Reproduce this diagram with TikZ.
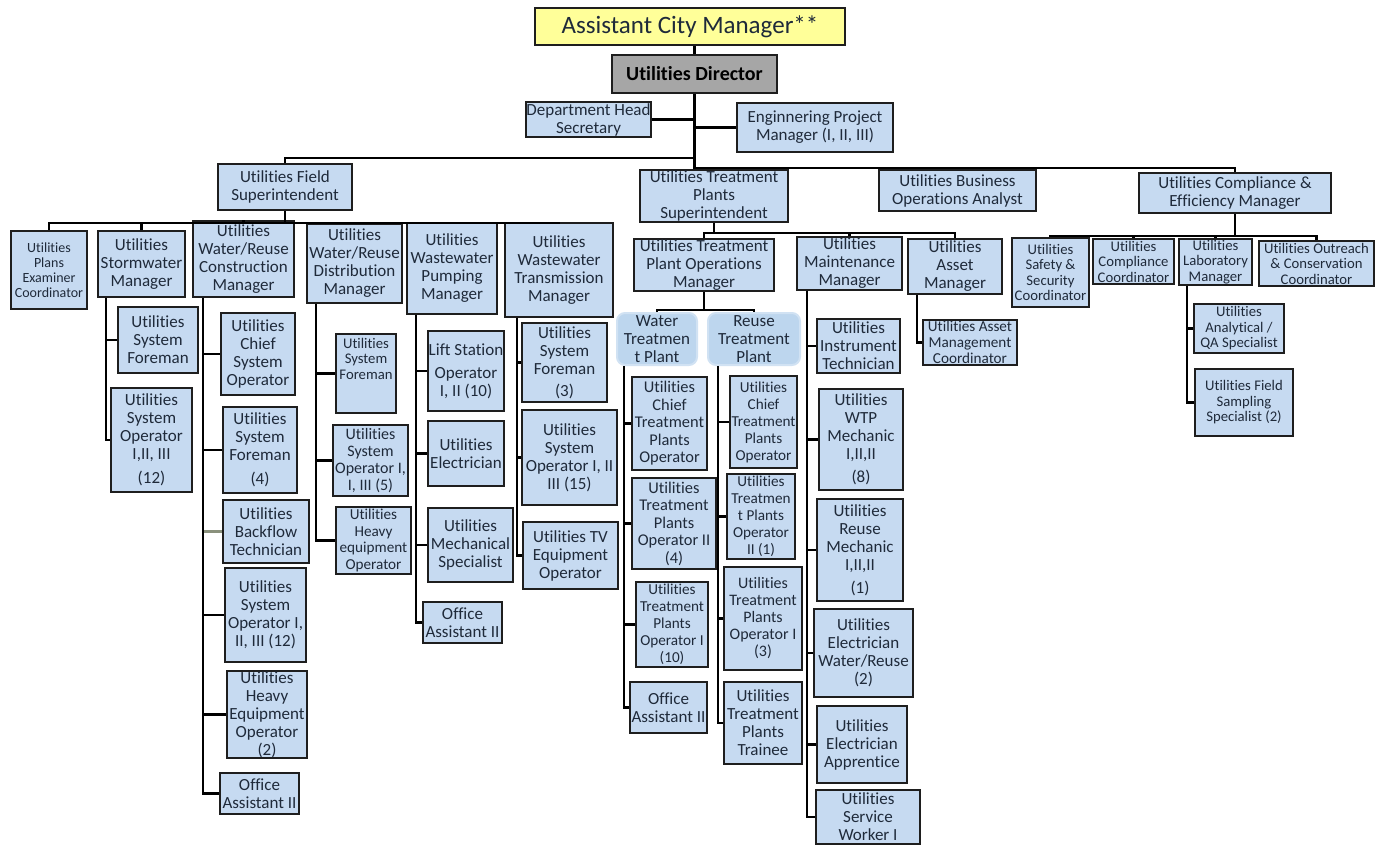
\documentclass[tikz,border=0pt]{standalone}
\usepackage{fontspec}
\setmainfont[Ligatures=NoCommon]{Carlito}
\usetikzlibrary{positioning, calc}
\definecolor{celeste}{HTML}{C6DAF1}
\definecolor{borde}{HTML}{1E1E1E}
\definecolor{texto}{HTML}{1F2A3A}
\definecolor{amarillo}{HTML}{FFFF99}
\definecolor{gris}{HTML}{A6A6A6}
\definecolor{celplanta}{HTML}{BDD6EE}
\definecolor{oliva}{HTML}{8A917C}
\tikzset{
  post/.style={rectangle, draw=borde, line width=1.8pt, fill=celeste, text=texto,
               align=center, inner sep=0.5pt, font=\fontsize{17}{18}\selectfont},
  postmid/.style={post, font=\fontsize{16}{17}\selectfont},
  postsmall/.style={post, font=\fontsize{14.7}{15.5}\selectfont},
  acmbox/.style={post, fill=amarillo, font=\fontsize{25}{28}\selectfont},
  dirbox/.style={post, fill=gris, text=black, font=\fontsize{20}{22}\selectfont\bfseries},
  plantbox/.style={rectangle, rounded corners=8pt, draw=celplanta!70, line width=2pt,
                   fill=celplanta, text=texto, align=center, inner sep=0.5pt,
                   font=\fontsize{17}{18}\selectfont},
  link/.style={line width=2.3pt, color=black}
}

\begin{document}
\begin{tikzpicture}[x=1pt, y=-1pt]
  \useasboundingbox (0,0) rectangle (1383,844);
  % top of the chart
  \node (acm) [acmbox, minimum width=310, minimum height=37] at (690,26.5) {Assistant City Manager**};
  \node (dir) [dirbox, minimum width=165, minimum height=38] at (694.5,74) {Utilities Director};
  \node (sec) [post, minimum width=125, minimum height=35] at (588.5,119.5) {Department Head\\Secretary};
  \node (epm) [post, minimum width=156, minimum height=49] at (815,127.5) {Enginnering Project\\Manager (I, II, III)};
  \node (fs) [post, minimum width=134, minimum height=46] at (285,187) {Utilities Field\\Superintendent};
  \node (tps) [post, minimum width=148, minimum height=50] at (714,196) {Utilities Treatment\\Plants\\Superintendent};
  \node (boa) [post, minimum width=157, minimum height=41] at (957.5,190.5) {Utilities Business\\Operations Analyst};
  \node (cem) [post, minimum width=192, minimum height=40] at (1235,193) {Utilities Compliance \&\\Efficiency Manager};
  \coordinate (jleft) at (694.5,158);
  \coordinate (jright) at (694.5,168);
  \draw [link] (dir.north) -- (dir.north |- acm.south);
  \draw [link] (dir.south) -- (dir.south |- tps.north);
  \draw [link] (sec.east) -- (sec.east -| dir.south);
  \draw [link] (epm.west) -- (epm.west -| dir.south);
  \draw [link] (jleft) -| (fs.north);
  \draw [link] (jright) -| (boa.north);
  \draw [link] (jright) -| (cem.north);

  % field superintendent
  \node (pec) [postsmall, font=\fontsize{14}{15}\selectfont, minimum width=76, minimum height=78] at (49,270) {Utilities\\Plans\\Examiner\\Coordinator};
  \node (swm) [post, minimum width=87, minimum height=66] at (141.5,264) {Utilities\\Stormwater\\Manager};
  \node (wrc) [post, minimum width=101, minimum height=76] at (243.5,259) {Utilities\\Water/Reuse\\Construction\\Manager};
  \node (wrd) [post, minimum width=95, minimum height=79] at (354.5,263.5) {Utilities\\Water/Reuse\\Distribution\\Manager};
  \node (wwp) [post, minimum width=90, minimum height=91] at (452,268.5) {Utilities\\Wastewater\\Pumping\\Manager};
  \node (wwt) [post, minimum width=108, minimum height=94] at (559,270) {Utilities\\Wastewater\\Transmission\\Manager};
  \coordinate (fsbus) at (285,223);
  \draw [link] (fs.south) -- (fsbus);
  \foreach \n in {pec,swm,wrc,wrd,wwp,wwt}
    \draw [link] (fsbus) -| (\n.north);

  \node (sw1) [post, minimum width=80, minimum height=66] at (158,340) {Utilities\\System\\Foreman};
  \node (sw2) [post, minimum width=81, minimum height=104] at (151.5,440) {Utilities\\System\\Operator\\I,II, III\\[6pt](12)};
  \foreach \n in {sw1,sw2}
    \draw [link] ($(swm.south west)+(9,0)$) |- (\n.west);

  \node (wc1) [post, minimum width=74, minimum height=82] at (258,354) {Utilities\\Chief\\System\\Operator};
  \node (wc2) [post, minimum width=74, minimum height=86] at (260,450) {Utilities\\System\\Foreman\\[6pt](4)};
  \node (wc3) [post, minimum width=86, minimum height=63] at (266,531.5) {Utilities\\Backflow\\Technician};
  \node (wc4) [post, minimum width=81, minimum height=94] at (265.5,615) {Utilities\\System\\Operator I,\\II, III (12)};
  \node (wc5) [post, minimum width=80, minimum height=87] at (267,714.5) {Utilities\\Heavy\\Equipment\\Operator\\(2)};
  \node (wc6) [post, minimum width=79, minimum height=41] at (259.5,793.5) {Office\\Assistant II};
  \draw [link, color=oliva] ($(wrc.south west)+(11,0)$) |- (wc3.west);
  \foreach \n in {wc1,wc2,wc4,wc5,wc6}
    \draw [link] ($(wrc.south west)+(11,0)$) |- (\n.west);

  \node (wd1) [postsmall, minimum width=60, minimum height=79] at (366,373.5) {Utilities\\System\\Foreman\\[14pt]};
  \node (wd2) [postmid, minimum width=75, minimum height=71] at (370.5,460.5) {Utilities\\System\\Operator I,\\I, III (5)};
  \node (wd3) [postsmall, font=\fontsize{15.2}{16.5}\selectfont, minimum width=75, minimum height=67] at (373.5,540.5) {Utilities\\Heavy\\equipment\\Operator};
  \foreach \n in {wd1,wd2,wd3}
    \draw [link] ($(wrd.south west)+(10,0)$) |- (\n.west);

  \node (wp1) [post, minimum width=76, minimum height=80] at (466,371) {Lift Station\\[5pt]Operator\\I, II (10)};
  \node (wp2) [post, minimum width=76, minimum height=65] at (466,453.5) {Utilities\\Electrician};
  \node (wp3) [post, minimum width=85, minimum height=74] at (470.5,545) {Utilities\\Mechanical\\Specialist};
  \node (wp4) [post, minimum width=79, minimum height=41] at (462.5,622.5) {Office\\Assistant II};
  \foreach \n in {wp1,wp2,wp3,wp4}
    \draw [link] ($(wwp.south west)+(10,0)$) |- (\n.west);

  \node (wt1) [post, minimum width=85, minimum height=79] at (564.5,362.5) {Utilities\\System\\Foreman\\[4pt](3)};
  \node (wt2) [post, minimum width=95, minimum height=95] at (569.5,457.5) {Utilities\\System\\Operator I, II\\III (15)};
  \node (wt3) [post, minimum width=95, minimum height=67] at (570.5,555.5) {Utilities TV\\Equipment\\Operator};
  \foreach \n in {wt1,wt2,wt3}
    \draw [link] ($(wwt.south west)+(13,0)$) |- (\n.west);

  % treatment plants superintendent
  \node (tpo) [post, minimum width=140, minimum height=50] at (704,265) {Utilities Treatment\\Plant Operations\\Manager};
  \node (mm) [post, minimum width=105, minimum height=53] at (849.5,263.5) {Utilities\\Maintenance\\Manager};
  \node (am) [post, minimum width=94, minimum height=55] at (955,266.5) {Utilities\\Asset\\Manager};
  \coordinate (tpsbus) at (714,233);
  \draw [link] (tps.south) -- (tpsbus);
  \foreach \n in {tpo,mm,am}
    \draw [link] (tpsbus) -| (\n.north);

  \node (wtp) [plantbox, minimum width=80, minimum height=52] at (657,339) {Water\\Treatmen\\t Plant};
  \node (rtp) [plantbox, minimum width=92, minimum height=52] at (754,339) {Reuse\\Treatment\\Plant};
  \coordinate (tpobus) at (704,310);
  \draw [link] (tpo.south) -- (tpobus);
  \draw [link] (tpobus) -| (wtp.north);
  \draw [link] (tpobus) -| (rtp.north);

  \node (wa1) [post, font=\fontsize{16.4}{17.5}\selectfont, minimum width=75, minimum height=93] at (669.5,423.5) {Utilities\\Chief\\Treatment\\Plants\\Operator};
  \node (wa2) [post, font=\fontsize{16.4}{17.5}\selectfont, minimum width=84, minimum height=91] at (674,523.5) {Utilities\\Treatment\\Plants\\Operator II\\(4)};
  \node (wa3) [post, font=\fontsize{15.2}{17}\selectfont, minimum width=72, minimum height=85] at (672,624.5) {Utilities\\Treatment\\Plants\\Operator I\\(10)};
  \node (wa4) [post, minimum width=77, minimum height=51] at (668.5,707.5) {Office\\Assistant II};
  \foreach \n in {wa1,wa2,wa3,wa4}
    \draw [link] ($(wtp.south west)+(8,0)$) |- (\n.west);

  \node (ra1) [post, font=\fontsize{15.2}{17}\selectfont, minimum width=67, minimum height=92] at (763.5,422) {Utilities\\Chief\\Treatment\\Plants\\Operator};
  \node (ra2) [post, font=\fontsize{15.2}{17}\selectfont, minimum width=68, minimum height=85] at (761,516.5) {Utilities\\Treatmen\\t Plants\\Operator\\II (1)};
  \node (ra3) [postmid, minimum width=78, minimum height=103] at (763,618.5) {Utilities\\Treatment\\Plants\\Operator I\\(3)};
  \node (ra4) [post, minimum width=78, minimum height=82] at (763,723) {Utilities\\Treatment\\Plants\\Trainee};
  \foreach \n in {ra1,ra2,ra3,ra4}
    \draw [link] ($(rtp.south west)+(11,0)$) |- (\n.west);

  \node (m1) [post, minimum width=83, minimum height=54] at (858.5,346) {Utilities\\Instrument\\Technician};
  \node (m2) [post, minimum width=84, minimum height=101] at (861,439.5) {Utilities\\WTP\\Mechanic\\I,II,II\\[5pt](8)};
  \node (m3) [post, minimum width=86, minimum height=102] at (860,550) {Utilities\\Reuse\\Mechanic\\I,II,II\\[5pt](1)};
  \node (m4) [post, minimum width=99, minimum height=88] at (863.5,653) {Utilities\\Electrician\\Water/Reuse\\(2)};
  \node (m5) [post, minimum width=90, minimum height=77] at (862,744.5) {Utilities\\Electrician\\Apprentice};
  \node (m6) [post, minimum width=104, minimum height=54] at (868,817) {Utilities\\Service\\Worker I};
  \foreach \n in {m1,m2,m3,m4,m5,m6}
    \draw [link] ($(mm.south west)+(11,0)$) |- (\n.west);

  \node (amc) [post, font=\fontsize{15.2}{16}\selectfont, minimum width=94, minimum height=45] at (970,342.5) {Utilities Asset\\Management\\Coordinator};
  \draw [link] ($(am.south west)+(10,0)$) |- (amc.west);

  % compliance & efficiency
  \node (c1) [postsmall, minimum width=77, minimum height=69] at (1050.5,272.5) {Utilities\\Safety \&\\Security\\Coordinator};
  \node (c2) [postsmall, minimum width=81, minimum height=45] at (1133.5,261.5) {Utilities\\Compliance\\Coordinator};
  \node (c3) [postsmall, minimum width=73, minimum height=46] at (1215.5,262) {Utilities\\Laboratory\\Manager};
  \node (c4) [postsmall, minimum width=115, minimum height=45] at (1316.5,263.5) {Utilities Outreach\\\& Conservation\\Coordinator};
  \coordinate (cembus) at (1235,236);
  \draw [link] (cem.south) -- (cembus);
  \foreach \n in {c1,c2,c3,c4}
    \draw [link] (cembus) -| (\n.north);

  \node (l1) [postsmall, minimum width=90, minimum height=49] at (1239,328.5) {Utilities\\Analytical /\\QA Specialist};
  \node (l2) [postsmall, minimum width=98, minimum height=67] at (1244,402.5) {Utilities Field\\Sampling\\Specialist (2)};
  \foreach \n in {l1,l2}
    \draw [link] ($(c3.south west)+(9,0)$) |- (\n.west);
\end{tikzpicture}
\end{document}
